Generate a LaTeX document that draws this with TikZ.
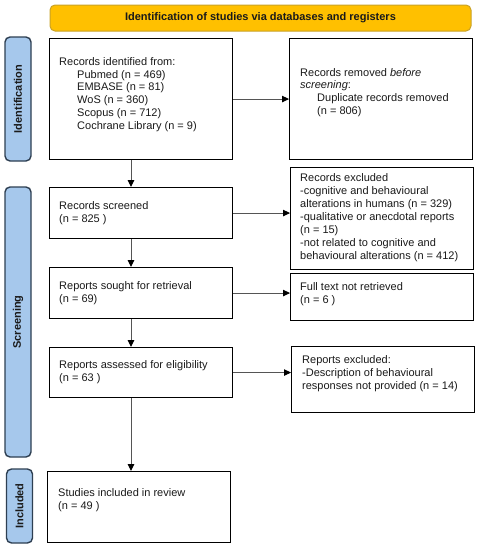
\documentclass[tikz,border=0pt]{standalone}
\usepackage{fontspec}
\setmainfont{Liberation Sans}
\usetikzlibrary{arrows.meta}
\definecolor{hdrfill}{HTML}{FFC000}
\definecolor{hdrdraw}{HTML}{C9A227}
\definecolor{sidefill}{HTML}{A6C8EC}
\definecolor{sidedraw}{HTML}{2E3F52}
\definecolor{arrgray}{HTML}{555555}
\definecolor{txt}{HTML}{1A1A1A}
\begin{document}
\begin{tikzpicture}[x=1pt,y=-1pt,
  frame/.style={draw=black,line width=1.1pt,fill=white,inner sep=0pt,anchor=north west},
  btext/.style={anchor=west,align=left,inner sep=0pt,text=txt,font=\fontsize{11}{12.9}\selectfont},
  side/.style={draw=sidedraw,fill=sidefill,line width=1.4pt,rounded corners=5pt,rotate=90,
    minimum height=26pt,inner sep=0pt,font=\bfseries\fontsize{11}{13}\selectfont,text=txt},
  hdr/.style={draw=hdrdraw,fill=hdrfill,line width=1pt,rounded corners=5pt,minimum width=421pt,
    minimum height=26pt,inner sep=0pt,font=\bfseries\fontsize{11}{13}\selectfont,text=txt},
  arr/.style={draw=arrgray,line width=1pt,-{Triangle[length=7pt,width=6.5pt,color=black]}}]
\useasboundingbox (0,0) rectangle (480,550);
\fill[white] (0,0) rectangle (480,550);

% header and side labels
\node[hdr] (hdr) at (260.5,18) {Identification of studies via databases and registers};
\node[side,minimum width=124pt] (sid) at (18,99) {Identification};
\node[side,minimum width=270pt] (sscr) at (18,322) {Screening};
\node[side,minimum width=74pt] (sinc) at (19.5,506) {Included};

% frames
\node[frame,minimum width=183pt,minimum height=121pt] (id) at (49,38) {};
\node[frame,minimum width=183pt,minimum height=121pt] (rem) at (289,38) {};
\node[frame,minimum width=183pt,minimum height=51pt] (scr) at (49,187) {};
\node[frame,minimum width=183pt,minimum height=102pt] (excl) at (290,167) {};
\node[frame,minimum width=183pt,minimum height=47pt] (full) at (290,273) {};
\node[frame,minimum width=183pt,minimum height=51pt] (sought) at (49,267) {};
\node[frame,minimum width=183pt,minimum height=50pt] (assess) at (49,347) {};
\node[frame,minimum width=183pt,minimum height=66pt] (repex) at (291,346) {};
\node[frame,minimum width=183pt,minimum height=71pt] (incl) at (47,471) {};

% texts
\node[btext] (tid) at (59,94.5) {Records identified from:\\
  \hspace*{18pt}Pubmed (n = 469)\\
  \hspace*{18pt}EMBASE (n = 81)\\
  \hspace*{18pt}WoS (n = 360)\\
  \hspace*{18pt}Scopus (n = 712)\\
  \hspace*{18pt}Cochrane Library (n = 9)};
\node[btext] (trem) at (300,92.5) {Records removed \emph{before}\\
  \emph{screening}:\\
  \hspace*{17pt}Duplicate records removed\\
  \hspace*{17pt}(n = 806)};
\node[btext] (tscr) at (59,213.5) {Records screened\\(n = 825 )};
\node[btext] (texcl) at (300,217.5) {Records excluded\\
  -cognitive and behavioural\\
  alterations in humans (n = 329)\\
  -qualitative or anecdotal reports\\
  (n = 15)\\
  -not related to cognitive and\\
  behavioural alterations (n = 412)};
\node[btext] (tfull) at (300,294.5) {Full text not retrieved\\(n = 6 )};
\node[btext] (tsought) at (59,293.5) {Reports sought for retrieval\\(n = 69)};
\node[btext] (tassess) at (59,372) {Reports assessed for eligibility\\(n = 63 )};
\node[btext] (trepex) at (302,373.5) {Reports excluded:\\
  -Description of behavioural\\
  responses not provided (n = 14)};
\node[btext] (tincl) at (58,500.5) {Studies included in review\\(n = 49 )};

% connectors
\coordinate (ax) at (131,0);
\draw[arr] (id.south -| ax) -- (scr.north -| ax);
\draw[arr] (scr.south -| ax) -- (sought.north -| ax);
\draw[arr] (sought.south -| ax) -- (assess.north -| ax);
\draw[arr] (assess.south -| ax) -- (incl.north -| ax);
\draw[arr] (id.east) -- (rem.west |- id.east);
\draw[arr] (scr.east) -- (excl.west |- scr.east);
\draw[arr] (sought.east) -- (full.west |- sought.east);
\draw[arr] (assess.east) -- (repex.west |- assess.east);
\end{tikzpicture}
\end{document}
